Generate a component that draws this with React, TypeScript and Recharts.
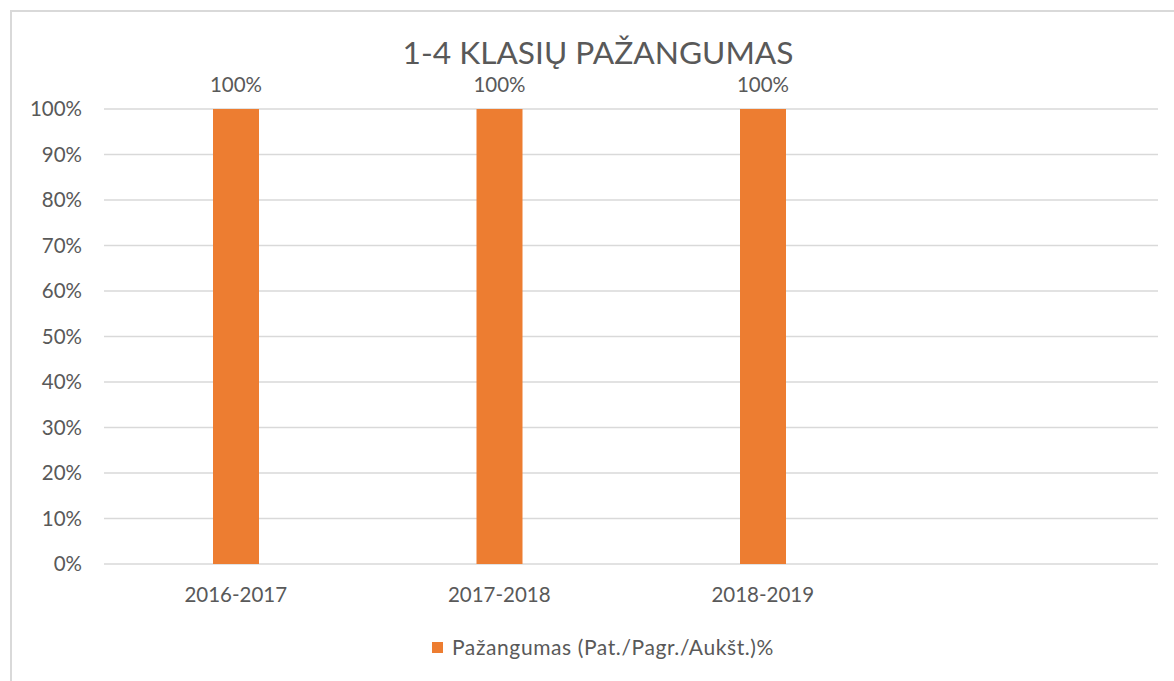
import React from "react";
import { BarChart, Bar, XAxis, YAxis, CartesianGrid, LabelList } from "recharts";

const title = "1-4 KLASIŲ PAŽANGUMAS";
const seriesName = "Pažangumas (Pat./Pagr./Aukšt.)%";
const categories = ["2016-2017", "2017-2018", "2018-2019", ""];
const values: (number | null)[] = [1, 1, 1, null];
const yTicks = [0, 0.1, 0.2, 0.3, 0.4, 0.5, 0.6, 0.7, 0.8, 0.9, 1];
const boundaryTicks = [0, 1, 2, 3, 4];

const data = categories.map((c, i) => ({ name: c, pos: i + 0.5, value: values[i] }));

const FONT = "Lato, 'Liberation Sans', sans-serif";
const TEXT = "#595959";
const GRID = "#d9d9d9";
const ORANGE = "#ED7D31";

const pct = (v: any) => (v == null ? "" : `${Math.round(Number(v) * 100)}%`);

export default function App() {
  return (
    <div
      style={{
        position: "absolute",
        left: 0,
        top: 0,
        width: 1174,
        height: 681,
        overflow: "hidden",
        background: "#fff",
        fontFamily: FONT,
      }}
    >
      <div
        style={{
          position: "absolute",
          left: 10,
          top: 10,
          width: 1200,
          height: 700,
          borderLeft: `2px solid ${GRID}`,
          borderTop: `2px solid ${GRID}`,
        }}
      />
      <div style={{ position: "absolute", left: 0, top: 0 }}>
        <BarChart
          width={1174}
          height={681}
          data={data}
          margin={{ top: 109, right: 16, bottom: 0, left: 0 }}
        >
          <CartesianGrid vertical={false} stroke={GRID} strokeWidth={1.5} />
          <XAxis
            xAxisId="b"
            type="number"
            dataKey="pos"
            domain={[0, 4]}
            ticks={boundaryTicks}
            tick={false}
            height={0}
            tickSize={7}
            tickLine={{ stroke: GRID, strokeWidth: 1.5 }}
            axisLine={{ stroke: GRID, strokeWidth: 1.5 }}
            allowDataOverflow
          />
          <XAxis
            xAxisId="a"
            dataKey="name"
            type="category"
            height={117}
            tickSize={0}
            tickMargin={23}
            tickLine={false}
            axisLine={false}
            tick={{ fill: TEXT, fontSize: 20.5, fontFamily: FONT }}
            interval={0}
          />
          <YAxis
            width={104}
            domain={[0, 1]}
            ticks={yTicks}
            tickFormatter={pct}
            axisLine={false}
            tickLine={false}
            tickSize={6}
            tickMargin={16}
            tick={{ fill: TEXT, fontSize: 20.5, fontFamily: FONT }}
            interval={0}
          />
          <Bar
            xAxisId="a"
            dataKey="value"
            name={seriesName}
            fill={ORANGE}
            barSize={46}
            isAnimationActive={false}
          >
            <LabelList
              dataKey="value"
              position="top"
              offset={17}
              formatter={pct}
              fill={TEXT}
              fontSize={20.5}
              fontFamily={FONT}
            />
          </Bar>
        </BarChart>
      </div>
      <svg
        width={1174}
        height={681}
        style={{ position: "absolute", left: 0, top: 0, pointerEvents: "none" }}
      >
        <text x={598} y={64} textAnchor="middle" fill={TEXT} fontSize={31.7} fontFamily={FONT}>
          {title}
        </text>
        <rect x={432} y={642} width={11} height={11} fill={ORANGE} />
        <text x={452} y={655} fill={TEXT} fontSize={21} letterSpacing={0.6} fontFamily={FONT}>
          {seriesName}
        </text>
      </svg>
    </div>
  );
}
